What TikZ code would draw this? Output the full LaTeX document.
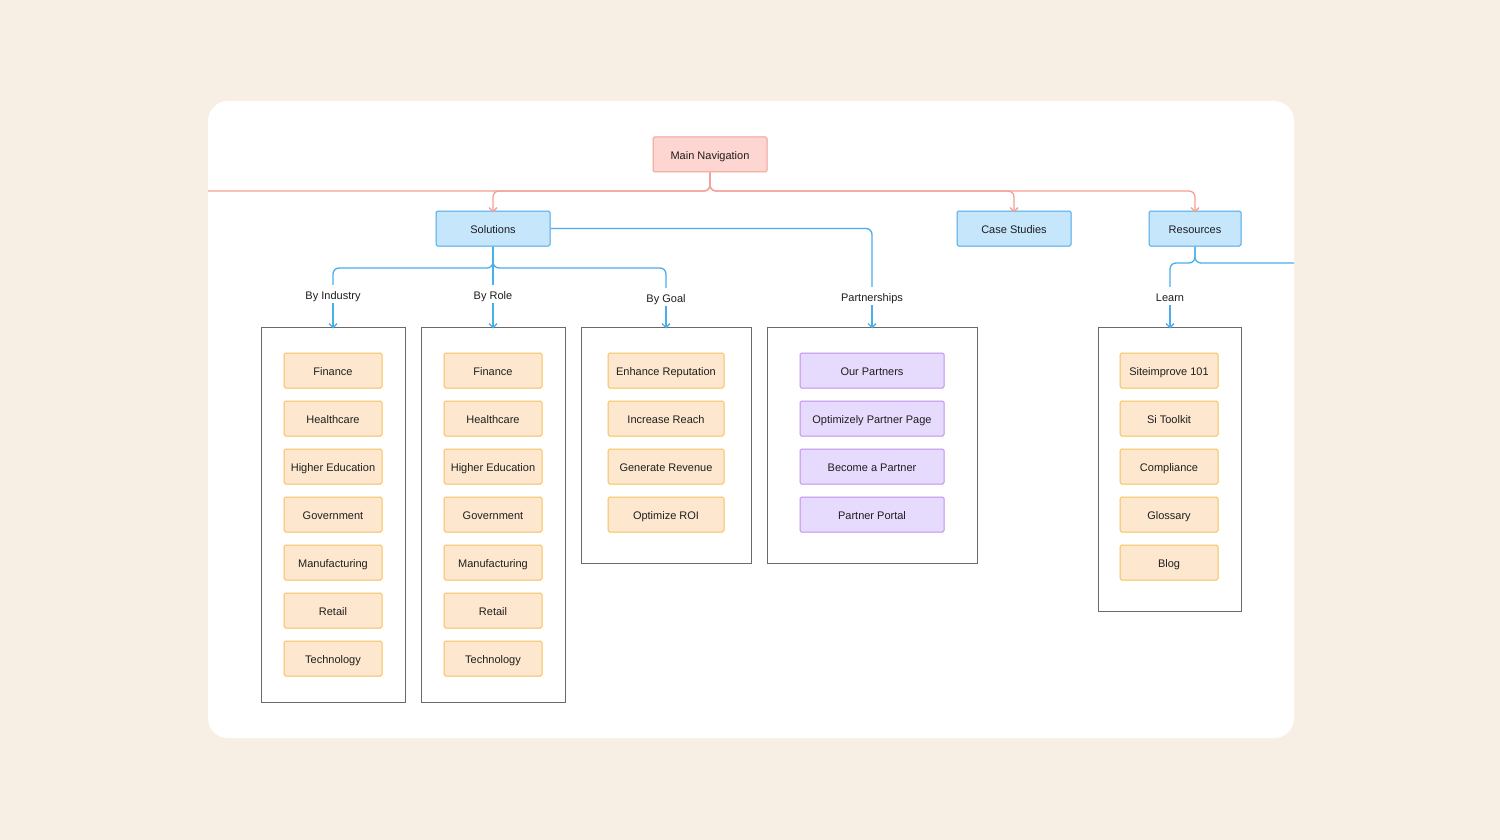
\documentclass[tikz,border=0pt]{standalone}
\usepackage{fontspec}
\setmainfont{Liberation Sans}
\usetikzlibrary{arrows.meta}
\definecolor{bgc}{HTML}{F8EFE4}
\definecolor{navfill}{HTML}{FDD5D1}
\definecolor{navdraw}{HTML}{F2A096}
\definecolor{redline}{HTML}{F4A196}
\definecolor{bluefill}{HTML}{C6E6FC}
\definecolor{bluedraw}{HTML}{4AA8EA}
\definecolor{blueline}{HTML}{4AAEEC}
\definecolor{itemfill}{HTML}{FDE8CF}
\definecolor{itemdraw}{HTML}{F5C35C}
\definecolor{purpfill}{HTML}{E7DBFD}
\definecolor{purpdraw}{HTML}{C38DF0}
\definecolor{colgray}{HTML}{6A6A6A}
\definecolor{txt}{HTML}{1E1E1E}
\tikzset{
  base/.style={inner sep=0pt, font=\fontsize{11}{13}\selectfont, text=txt, text height=10pt, text depth=0pt},
  navbox/.style={base, draw=navdraw, fill=navfill, line width=1pt, rounded corners=1.5pt, minimum width=114pt, minimum height=35pt},
  topbox/.style={base, draw=bluedraw, fill=bluefill, line width=1pt, rounded corners=1.5pt, minimum height=35pt},
  item/.style={base, draw=itemdraw, fill=itemfill, line width=1pt, rounded corners=1.5pt, minimum height=35pt},
  pitem/.style={base, draw=purpdraw, fill=purpfill, line width=1pt, rounded corners=1.5pt, minimum height=35pt, minimum width=144pt},
  colbox/.style={draw=colgray, line width=1pt, inner sep=0pt},
  lbl/.style={base, inner sep=4pt},
  redc/.style={draw=redline, line width=1.3pt, rounded corners=6pt},
  bluec/.style={draw=blueline, line width=1.3pt, rounded corners=6pt},
  tip/.style={-{Straight Barb[length=4pt,width=8pt]}},
}
\begin{document}
\begin{tikzpicture}[x=1pt,y=-1pt]
\useasboundingbox (0,0) rectangle (1500,840);
\fill[bgc] (0,0) rectangle (1500,840);
\fill[white, rounded corners=20pt] (208,101) rectangle (1294,738);

% top level
\node[navbox] (nav) at (710,154.5) {Main Navigation};
\node[topbox, minimum width=114pt] (sol) at (493,228.5) {Solutions};
\node[topbox, minimum width=114pt] (cs) at (1014,228.5) {Case Studies};
\node[topbox, minimum width=92pt] (res) at (1195,228.5) {Resources};
\coordinate (leftend) at (208,191);
\coordinate (rightend) at (1294,263);

% red connectors
\draw[redc] (nav.south) -- (710,191) -- (leftend);
\draw[redc, tip] (nav.south) -- (710,191) -- (493,191) -- ([yshift=-2pt]sol.north);
\draw[redc, tip] (nav.south) -- (710,191) -- (1014,191) -- ([yshift=-2pt]cs.north);
\draw[redc, tip] (nav.south) -- (710,191) -- (1195,191) -- ([yshift=-2pt]res.north);

% labels
\node[lbl] (lInd) at (333,294) {By Industry};
\node[lbl] (lRole) at (493,294) {By Role};
\node[lbl] (lGoal) at (666,297) {By Goal};
\node[lbl] (lPart) at (872,296) {Partnerships};
\node[lbl] (lLearn) at (1170,296) {Learn};

% columns
\node[colbox, minimum width=144pt, minimum height=375pt] (cInd) at (333,514.5) {};
\node[colbox, minimum width=144pt, minimum height=375pt] (cRole) at (493,514.5) {};
\node[colbox, minimum width=170pt, minimum height=236pt] (cGoal) at (666,445) {};
\node[colbox, minimum width=210pt, minimum height=236pt] (cPart) at (872,445) {};
\node[colbox, minimum width=143pt, minimum height=284pt] (cLearn) at (1170,469) {};

% blue connectors
\draw[bluec] (sol.south) -- (493,268) -- (333,268) -- (lInd.north);
\draw[bluec] (sol.south) -- (lRole.north);
\draw[bluec] (sol.south) -- (493,268) -- (666,268) -- (lGoal.north);
\draw[bluec] (sol.east) -| (lPart.north);
\draw[bluec] (res.south) -- (1195,263) -- (1170,263) -- (lLearn.north);
\draw[bluec] (res.south) -- (1195,263) -- (rightend);
\draw[bluec, tip] (lInd.south) -- ([yshift=-2pt]cInd.north);
\draw[bluec, tip] (lRole.south) -- ([yshift=-2pt]cRole.north);
\draw[bluec, tip] (lGoal.south) -- ([yshift=-2pt]cGoal.north);
\draw[bluec, tip] (lPart.south) -- ([yshift=-2pt]cPart.north);
\draw[bluec, tip] (lLearn.south) -- ([yshift=-2pt]cLearn.north);

% industry and role items
\foreach \t [count=\i] in {Finance,Healthcare,Higher Education,Government,Manufacturing,Retail,Technology}{
  \node[item, minimum width=98pt] (ind\i) at (333,{370.5+48*(\i-1)}) {\t};
  \node[item, minimum width=98pt] (role\i) at (493,{370.5+48*(\i-1)}) {\t};
}
% goal items
\foreach \t [count=\i] in {Enhance Reputation,Increase Reach,Generate Revenue,Optimize ROI}{
  \node[item, minimum width=116pt] (goal\i) at (666,{370.5+48*(\i-1)}) {\t};
}
% partner items
\foreach \t [count=\i] in {Our Partners,Optimizely Partner Page,Become a Partner,Partner Portal}{
  \node[pitem] (part\i) at (872,{370.5+48*(\i-1)}) {\t};
}
% learn items
\foreach \t [count=\i] in {Siteimprove 101,Si Toolkit,Compliance,Glossary,Blog}{
  \node[item, minimum width=98pt] (learn\i) at (1169,{370.5+48*(\i-1)}) {\t};
}
\end{tikzpicture}
\end{document}
